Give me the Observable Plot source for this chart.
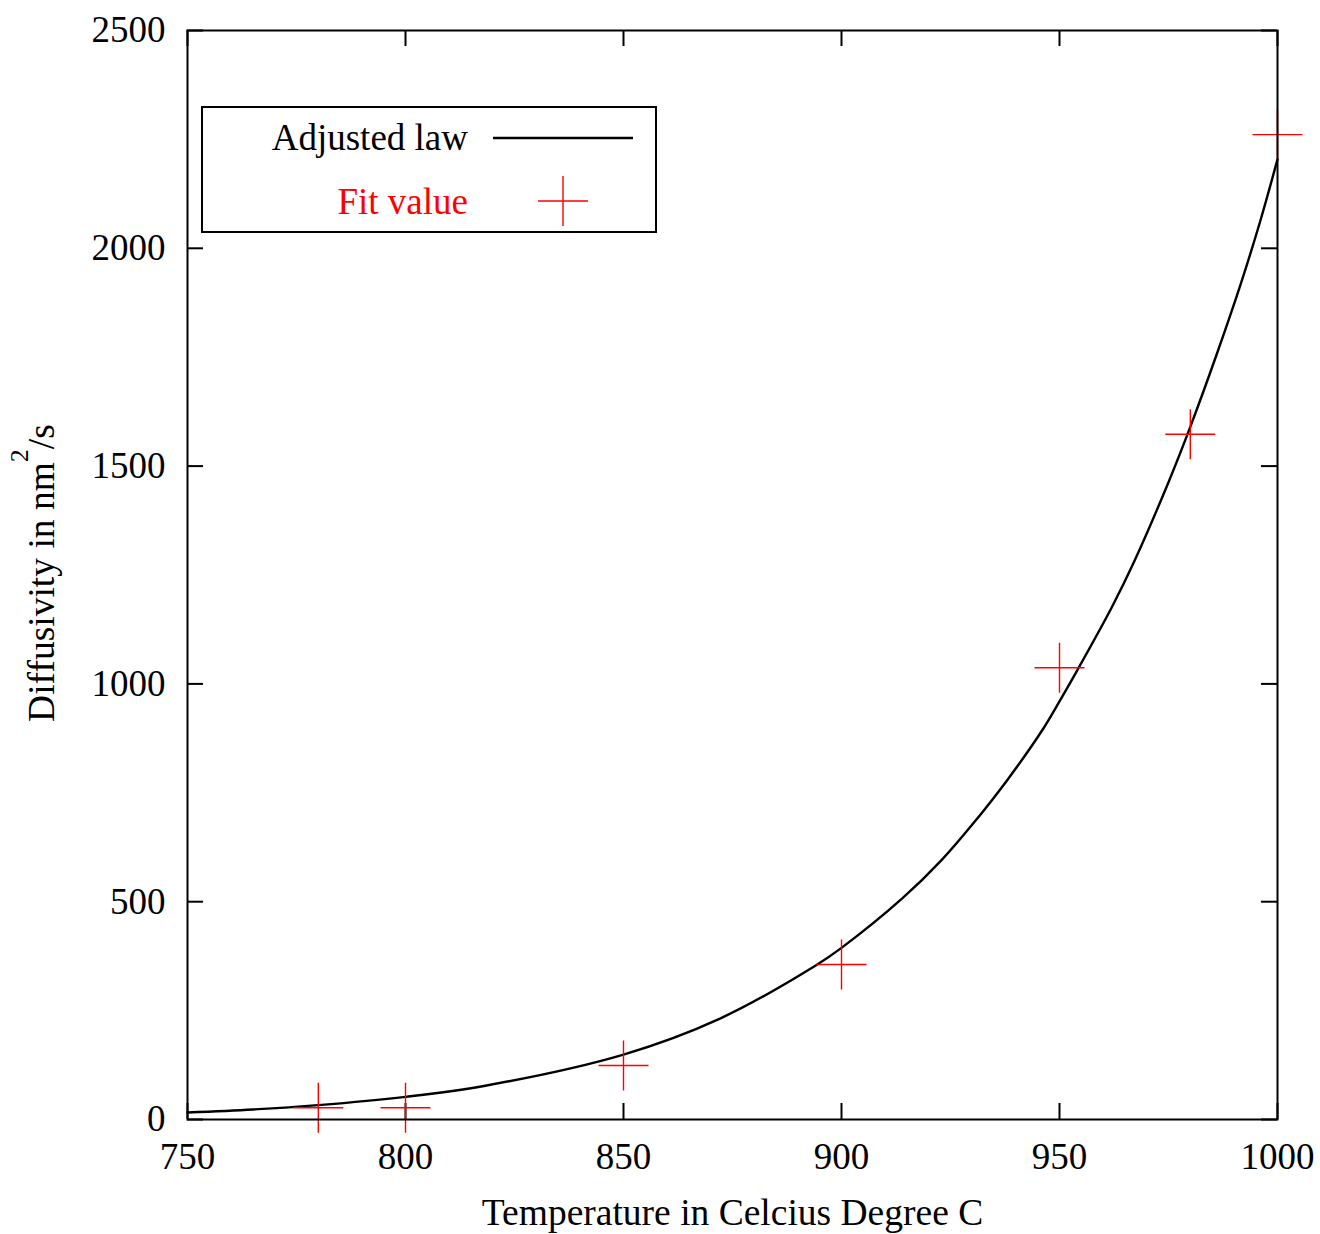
<!DOCTYPE html>
<html>
<head>
<meta charset="utf-8">
<script src="https://cdn.jsdelivr.net/npm/d3@7"></script>
<script src="https://cdn.jsdelivr.net/npm/@observablehq/plot@0.6"></script>
<style>
  html, body { margin: 0; padding: 0; background: #fff; }
  #chart svg { display: block; }
</style>
</head>
<body>
<div id="chart"></div>
<script>
// ---- data ----
const xTicks = [750, 800, 850, 900, 950, 1000];
const yTicks = [0, 500, 1000, 1500, 2000, 2500];

// "Fit value" (red crosses)
const fitTemp = [780, 800, 850, 900, 950, 980, 1000];
const fitDiff = [27, 27, 124, 356, 1037, 1573, 2261];

// "Adjusted law" (black curve)
const lawTemp = [750, 765, 780, 800, 818, 850, 872, 894, 900, 914, 923, 930, 938, 946, 950, 954, 962, 967, 975, 980, 986, 991.5, 996, 1000];
const lawDiff = [16, 23, 33, 52, 77, 149, 231, 353, 394, 508, 596, 677, 779, 893, 960, 1030, 1176, 1278, 1463, 1590, 1755, 1916, 2061, 2204];

const xLabel = "Temperature in Celcius Degree C";
const yLabelMain = "Diffusivity in nm";
const yLabelSup = "2";
const yLabelTail = "/s";
const legendLaw = "Adjusted law";
const legendFit = "Fit value";

// ---- build ----
const W = 1320, H = 1234;
const mL = 187, mR = 43, mT = 30, mB = 115;
const plotW = W - mL - mR, plotH = H - mT - mB;
const tickLen = 16;
const FONT = "'Liberation Serif', 'Times New Roman', serif";
const FS = 37;

const fitData = fitTemp.map((t, i) => ({t, d: fitDiff[i]}));
const lawData = lawTemp.map((t, i) => ({t, d: lawDiff[i]}));

const crossSymbol = {
  draw(context, size) {
    const r = Math.sqrt(size / Math.PI);
    context.moveTo(-r, 0); context.lineTo(r, 0);
    context.moveTo(0, -r); context.lineTo(0, r);
  }
};

const chart = Plot.plot({
  width: W, height: H,
  marginLeft: mL, marginRight: mR, marginTop: mT, marginBottom: mB,
  x: {domain: [750, 1000], axis: null},
  y: {domain: [0, 2500], axis: null},
  style: {fontFamily: FONT, background: "white", color: "black"},
  marks: [
    // inward ticks on all four sides
    Plot.tickX(xTicks, {x: d => d, insetTop: plotH - tickLen, stroke: "black", strokeWidth: 2}),
    Plot.tickX(xTicks, {x: d => d, insetBottom: plotH - tickLen, stroke: "black", strokeWidth: 2}),
    Plot.tickY(yTicks, {y: d => d, insetRight: plotW - tickLen, stroke: "black", strokeWidth: 2}),
    Plot.tickY(yTicks, {y: d => d, insetLeft: plotW - tickLen, stroke: "black", strokeWidth: 2}),
    // tick labels
    Plot.text(xTicks, {x: d => d, text: d => String(d), frameAnchor: "bottom", dy: 49, fontSize: FS, fill: "black"}),
    Plot.text(yTicks, {y: d => d, text: d => String(d), frameAnchor: "left", textAnchor: "end", dx: -22, fontSize: FS, fill: "black"}),
    // x label
    Plot.text([xLabel], {text: d => d, frameAnchor: "bottom", dy: 105, fontSize: 37.5, fill: "black"}),
    // data
    Plot.line(lawData, {x: "t", y: "d", stroke: "black", strokeWidth: 2.4, curve: "catmull-rom"}),
    Plot.dot(fitData, {x: "t", y: "d", symbol: crossSymbol, r: 25, fill: "none", stroke: "red", strokeWidth: 1.4}),
    Plot.frame({stroke: "black", strokeWidth: 2, fill: "none"})
  ]
});

document.getElementById("chart").appendChild(chart);

const svg = d3.select(chart);

// y label with superscript
const yl = svg.append("text")
  .attr("transform", `translate(54, 573) rotate(-90)`)
  .attr("text-anchor", "middle")
  .attr("font-family", FONT)
  .attr("font-size", 37.5)
  .attr("fill", "black");
yl.append("tspan").text(yLabelMain);
yl.append("tspan").attr("dy", -26).attr("font-size", 26).text(yLabelSup);
yl.append("tspan").attr("dy", 26).text(yLabelTail);

// legend
const lg = svg.append("g");
lg.append("rect")
  .attr("x", 202).attr("y", 107).attr("width", 454).attr("height", 125)
  .attr("fill", "white").attr("stroke", "black").attr("stroke-width", 2);
lg.append("text")
  .attr("x", 468).attr("y", 150).attr("text-anchor", "end")
  .attr("font-family", FONT).attr("font-size", FS).attr("fill", "black")
  .text(legendLaw);
lg.append("line")
  .attr("x1", 493).attr("x2", 633).attr("y1", 138).attr("y2", 138)
  .attr("stroke", "black").attr("stroke-width", 2.4);
lg.append("text")
  .attr("x", 468).attr("y", 214).attr("text-anchor", "end")
  .attr("font-family", FONT).attr("font-size", FS).attr("fill", "red")
  .text(legendFit);
lg.append("path")
  .attr("d", "M538,201H588M563,176V226")
  .attr("stroke", "red").attr("stroke-width", 1.4).attr("fill", "none");
</script>
</body>
</html>
